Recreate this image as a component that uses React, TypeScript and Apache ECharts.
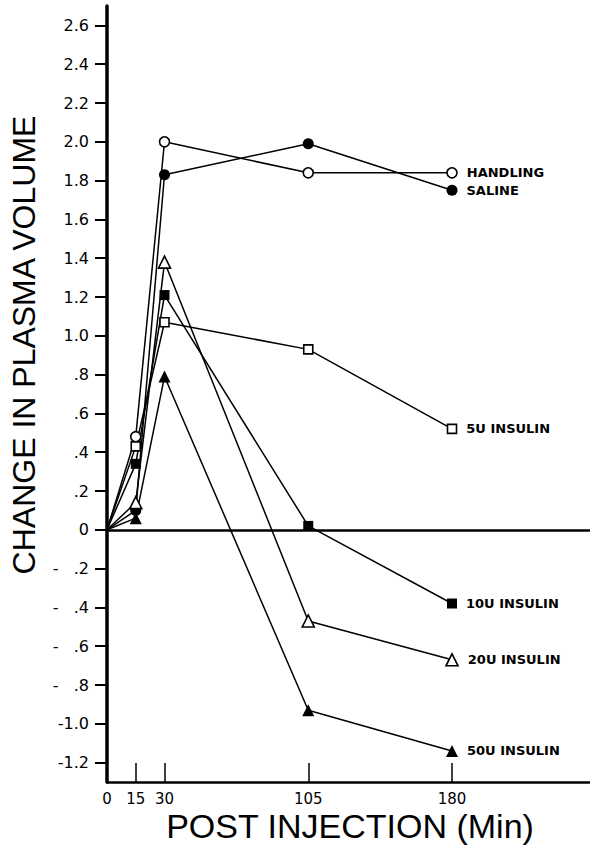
import React, { useEffect, useRef } from "react";
import * as echarts from "echarts";

const times = [0, 15, 30, 105, 180];
const handling = [0, 0.48, 2.0, 1.84, 1.84];
const saline = [0, 0.1, 1.83, 1.99, 1.75];
const insulin5 = [0, 0.43, 1.07, 0.93, 0.52];
const insulin10 = [0, 0.34, 1.21, 0.02, -0.38];
const insulin20 = [0, 0.14, 1.38, -0.47, -0.67];
const insulin50 = [0, 0.06, 0.79, -0.93, -1.14];
const seriesNames = ["HANDLING", "SALINE", "5U INSULIN", "10U INSULIN", "20U INSULIN", "50U INSULIN"];

const yTickValues = [-1.2, -1.0, -0.8, -0.6, -0.4, -0.2, 0, 0.2, 0.4, 0.6, 0.8, 1.0, 1.2, 1.4, 1.6, 1.8, 2.0, 2.2, 2.4, 2.6];
const yTickLabels = ["-1.2", "-1.0", "-   .8", "-   .6", "-   .4", "-   .2", "0", ".2", ".4", ".6", ".8", "1.0", "1.2", "1.4", "1.6", "1.8", "2.0", "2.2", "2.4", "2.6"];
const xTickValues = [0, 15, 30, 105, 180];
const xTickLabels = ["0", "15", "30", "105", "180"];

const yTitle = "CHANGE IN PLASMA VOLUME";
const xTitle = "POST INJECTION (Min)";

type MarkerStyle = { symbol: string; size: number; filled: boolean };
const markers: MarkerStyle[] = [
  { symbol: "circle", size: 10, filled: false },
  { symbol: "circle", size: 11, filled: true },
  { symbol: "rect", size: 9, filled: false },
  { symbol: "rect", size: 10, filled: true },
  { symbol: "triangle", size: 12, filled: false },
  { symbol: "triangle", size: 12, filled: true },
];

export default function App() {
  const ref = useRef<HTMLDivElement>(null);
  useEffect(() => {
    document.body.style.margin = "0";
    if (!ref.current) return;
    const chart = echarts.init(ref.current, undefined, { renderer: "svg" });
    const allValues = [handling, saline, insulin5, insulin10, insulin20, insulin50];
    const series = allValues.map((vals, si) => {
      const m = markers[si];
      const data = vals.map((v, i) => {
        const item: any = { value: [times[i], v] };
        if (i === 0) item.symbolSize = 0;
        if (i === vals.length - 1) {
          item.label = {
            show: true,
            position: "right",
            distance: 9,
            formatter: seriesNames[si],
            fontFamily: "DejaVu Sans",
            fontWeight: "bold",
            fontSize: 13,
            color: "#000",
          };
        }
        return item;
      });
      const s: any = {
        type: "line",
        name: seriesNames[si],
        data,
        symbol: m.symbol,
        symbolSize: m.size,
        showAllSymbol: true,
        lineStyle: { color: "#000", width: 1.5 },
        itemStyle: {
          color: m.filled ? "#000" : "#fff",
          borderColor: "#000",
          borderWidth: m.filled ? 0 : 1.6,
        },
        z: 3,
      };
      if (si === 0) {
        s.markLine = {
          silent: true,
          symbol: ["none", "none"],
          label: { show: false },
          lineStyle: { color: "#000", width: 2.5, type: "solid" },
          data: [{ yAxis: 0 }],
          z: 1,
        };
      }
      return s;
    });

    chart.setOption({
      animation: false,
      backgroundColor: "#fff",
      grid: { left: 107, right: 0, top: 6, bottom: 67, containLabel: false },
      xAxis: {
        type: "value",
        min: 0,
        max: 252,
        axisLine: { show: true, onZero: false, lineStyle: { color: "#000", width: 2.5 } },
        axisTick: {
          show: true,
          inside: true,
          length: 19,
          customValues: xTickValues.slice(1),
          lineStyle: { color: "#000", width: 1.5 },
        },
        axisLabel: {
          show: true,
          customValues: xTickValues,
          margin: 9,
          fontFamily: "DejaVu Sans",
          fontSize: 15,
          color: "#000",
          formatter: (v: number) => {
            const i = xTickValues.indexOf(v);
            return i >= 0 ? xTickLabels[i] : "";
          },
        },
        splitLine: { show: false },
      },
      yAxis: {
        type: "value",
        min: -1.3,
        max: 2.7,
        axisLine: { show: true, onZero: false, lineStyle: { color: "#000", width: 3.5 } },
        axisTick: {
          show: true,
          inside: false,
          length: 12,
          customValues: yTickValues,
          lineStyle: { color: "#000", width: 2 },
        },
        axisLabel: {
          show: true,
          customValues: yTickValues,
          margin: 18,
          fontFamily: "DejaVu Sans",
          fontSize: 16,
          color: "#000",
          formatter: (v: number) => {
            const i = yTickValues.findIndex((t) => Math.abs(t - v) < 1e-6);
            return i >= 0 ? yTickLabels[i] : "";
          },
        },
        splitLine: { show: false },
      },
      graphic: [
        {
          type: "text",
          x: 24,
          y: 345,
          rotation: Math.PI / 2,
          style: {
            text: yTitle,
            font: '32px "Liberation Sans"',
            textAlign: "center",
            textVerticalAlign: "middle",
            fill: "#000",
          },
        },
        {
          type: "text",
          x: 350,
          y: 826,
          style: {
            text: xTitle,
            font: '34px "Liberation Sans"',
            textAlign: "center",
            textVerticalAlign: "middle",
            fill: "#000",
          },
        },
      ],
      series,
    });
    return () => chart.dispose();
  }, []);
  return <div ref={ref} style={{ width: 590, height: 849 }} />;
}
